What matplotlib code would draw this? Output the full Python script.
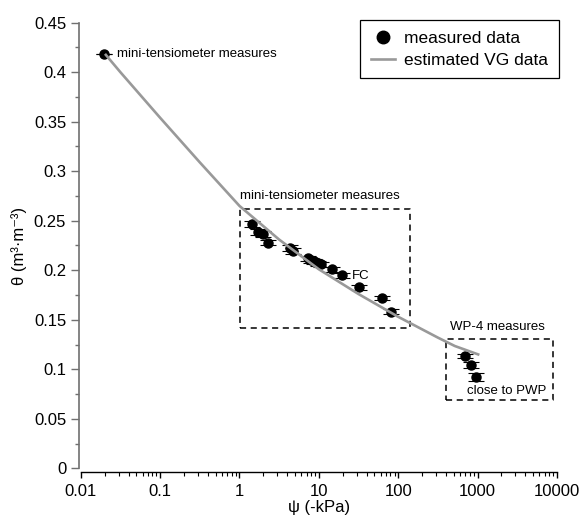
import matplotlib
matplotlib.use("Agg")
import matplotlib.pyplot as plt
from matplotlib.lines import Line2D
import numpy as np

plt.rcParams['font.family'] = ['Liberation Sans', 'DejaVu Sans']

# measured points (psi in -kPa, theta in m3/m3) and their error bars
psi_meas = [0.0195, 1.43, 1.73, 1.96, 2.32, 4.3, 4.7, 7.3, 8.0, 8.8, 9.7,
            10.7, 14.7, 19.7, 32, 62, 82, 690, 820, 970]
theta_meas = [0.418, 0.247, 0.239, 0.237, 0.228, 0.222, 0.219, 0.212, 0.210,
              0.209, 0.207, 0.206, 0.201, 0.195, 0.183, 0.172, 0.158,
              0.113, 0.104, 0.092]
theta_err = [0.0, 0.003, 0.003, 0.003, 0.003, 0.003, 0.003, 0.0025, 0.0025,
             0.0025, 0.0025, 0.0025, 0.0025, 0.0025, 0.0025, 0.0025, 0.0025,
             0.002, 0.003, 0.004]

# estimated van Genuchten curve
psi_vg = [0.0207, 0.0316, 0.1, 0.316, 1, 3.16, 10, 31.6, 100, 316, 517, 1018]
theta_vg = [0.4175, 0.400, 0.354, 0.309, 0.265, 0.231, 0.201, 0.176, 0.153,
            0.132, 0.1235, 0.115]

# dashed boxes around measurement groups
box1_psi = [1.02, 140]
box1_theta = [0.142, 0.262]
box2_psi = [406, 8990]
box2_theta = [0.069, 0.1303]

yticks = [0, 0.05, 0.1, 0.15, 0.2, 0.25, 0.3, 0.35, 0.4, 0.45]
ytick_labels = ['0', '0.05', '0.1', '0.15', '0.2', '0.25', '0.3', '0.35', '0.4', '0.45']
xticks = [0.01, 0.1, 1, 10, 100, 1000, 10000]
xtick_labels = ['0.01', '0.1', '1', '10', '100', '1000', '10000']

fig = plt.figure(figsize=(5.81, 5.23), dpi=100)
ax = fig.add_axes([0.139, 0.1046, 0.8195, 0.852])

ax.errorbar(psi_meas, theta_meas, yerr=theta_err, fmt='o', color='black',
            ms=6.5, capsize=5.5, elinewidth=0.8, capthick=0.8, zorder=3)
vg_line, = ax.plot(psi_vg, theta_vg, color='#999999', lw=1.9, zorder=4)


def dashed_box(px, ty):
    ax.plot([px[0], px[1], px[1], px[0], px[0]],
            [ty[0], ty[0], ty[1], ty[1], ty[0]],
            color='black', lw=1.1, ls=(0, (4, 3)), zorder=2)


dashed_box(box1_psi, box1_theta)
dashed_box(box2_psi, box2_theta)

ax.set_xscale('log')
ax.set_xlim(0.01, 10000)
ax.set_ylim(0, 0.45)
ax.set_xticks(xticks)
ax.set_xticklabels(xtick_labels)
ax.set_yticks(yticks)
ax.set_yticklabels(ytick_labels)
ax.set_yticks(np.arange(0.025, 0.45, 0.05), minor=True)
ax.xaxis.set_minor_locator(matplotlib.ticker.LogLocator(base=10, subs=np.arange(2, 10)))
ax.xaxis.set_minor_formatter(matplotlib.ticker.NullFormatter())

ax.spines['top'].set_visible(False)
ax.spines['right'].set_visible(False)
ax.spines['bottom'].set_position(('outward', 3))
ax.spines['left'].set_position(('outward', 1))
ax.spines['left'].set_color('#707070')
ax.spines['left'].set_linewidth(1.2)
ax.spines['bottom'].set_linewidth(1.0)

ax.tick_params(axis='y', which='major', length=6, color='#707070', labelsize=12, width=1)
ax.tick_params(axis='y', which='minor', length=3, color='#707070', width=1)
ax.tick_params(axis='x', which='major', length=4.5, labelsize=12, width=1)
ax.tick_params(axis='x', which='minor', length=3, width=0.8)

ax.set_xlabel('ψ (-kPa)', fontsize=12, labelpad=1)
ax.set_ylabel('θ (m³·m⁻³)', fontsize=12, labelpad=5)

ax.text(0.029, 0.418, 'mini-tensiometer measures', fontsize=9.5, va='center')
ax.text(1.03, 0.2745, 'mini-tensiometer measures', fontsize=9.5, va='center')
ax.text(26, 0.1945, 'FC', fontsize=9.5, va='center')
ax.text(450, 0.1425, 'WP-4 measures', fontsize=9.5, va='center')
ax.text(730, 0.078, 'close to PWP', fontsize=9.5, va='center')

meas_handle = Line2D([], [], marker='o', ls='none', color='black', ms=9)
leg = ax.legend([meas_handle, vg_line], ['measured data', 'estimated VG data'],
                loc='upper right', bbox_to_anchor=(1.004, 1.006), fontsize=12.5,
                frameon=True, fancybox=False, edgecolor='black', framealpha=1,
                handlelength=1.4, handletextpad=0.55, borderpad=0.6,
                labelspacing=0.42, borderaxespad=0)
leg.get_frame().set_linewidth(0.9)

fig.savefig('out.png', dpi=100)
